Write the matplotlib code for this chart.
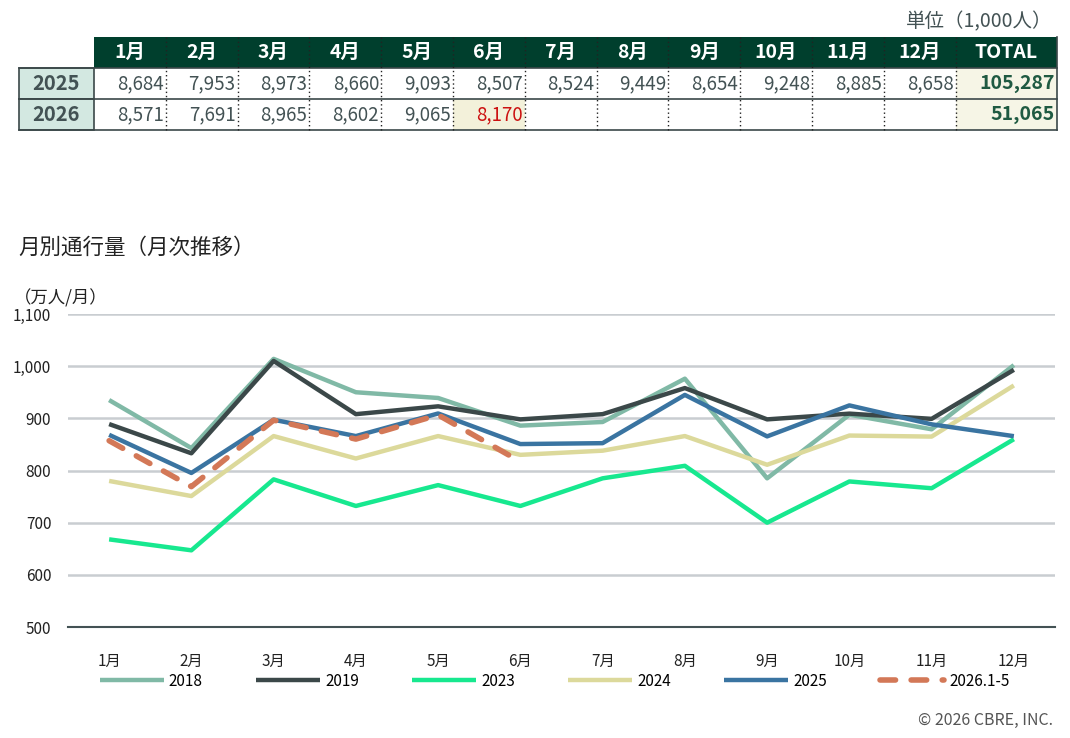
import matplotlib
matplotlib.use('Agg')
import matplotlib.pyplot as plt
from matplotlib.patches import Rectangle

plt.rcParams['font.family'] = ['Noto Sans CJK JP', 'DejaVu Sans']

# ---- data ----
months = ['1月', '2月', '3月', '4月', '5月', '6月', '7月', '8月', '9月', '10月', '11月', '12月']
table_years = ['2025', '2026']
table_2025 = [8684, 7953, 8973, 8660, 9093, 8507, 8524, 9449, 8654, 9248, 8885, 8658]
table_2026 = [8571, 7691, 8965, 8602, 9065, 8170]
total_2025 = 105287
total_2026 = 51065

v2018 = [935, 843, 1014, 950, 939, 886, 893, 976, 785, 907, 879, 1002]
v2019 = [889, 833, 1010, 908, 923, 898, 908, 958, 898, 909, 899, 993]
v2023 = [668, 647, 783, 732, 772, 732, 785, 809, 700, 779, 766, 860]
v2024 = [780, 751, 866, 823, 866, 830, 838, 866, 811, 867, 865, 963]
v2025 = [v / 10 for v in table_2025]
v2026 = [v / 10 for v in table_2026]

series = [
    ('2018', v2018, '#80b9a6', '-'),
    ('2019', v2019, '#3b4849', '-'),
    ('2023', v2023, '#17e88f', '-'),
    ('2024', v2024, '#dcd99b', '-'),
    ('2025', v2025, '#3a74a1', '-'),
    ('2026.1-5', v2026, '#d37857', '--'),
]

W, H = 1070, 738
fig = plt.figure(figsize=(W / 100, H / 100), dpi=100)

# ---- table (drawn in pixel coordinates) ----
tab = fig.add_axes([0, 0, 1, 1])
tab.set_xlim(0, W)
tab.set_ylim(H, 0)
tab.axis('off')

dark_green = '#003f2d'
text_gray = '#435254'
lab_x0, lab_x1 = 19, 94
col_w = 71.8
tot_x0, tot_x1 = 94 + 12 * col_w, 1057
row_y = [37, 68, 99, 130]

# header
tab.add_patch(Rectangle((lab_x1, row_y[0]), tot_x1 - lab_x1, row_y[1] - row_y[0],
                        facecolor=dark_green, edgecolor='none'))
headers = months + ['TOTAL']
for i, h in enumerate(headers):
    if i < 12:
        cx = lab_x1 + (i + 0.5) * col_w
    else:
        cx = (tot_x0 + tot_x1) / 2
    tab.text(cx, (row_y[0] + row_y[1]) / 2, h, color='white', fontsize=14,
             fontweight='bold', ha='center', va='center')

# body rows
rows = [(table_2025, total_2025), (table_2026, total_2026)]
for r, (vals, tot) in enumerate(rows):
    y0, y1 = row_y[r + 1], row_y[r + 2]
    ym = (y0 + y1) / 2
    tab.add_patch(Rectangle((lab_x0, y0), lab_x1 - lab_x0, y1 - y0,
                            facecolor='#d3e8e1', edgecolor='#3b4849', lw=1.2))
    tab.text((lab_x0 + lab_x1) / 2, ym, table_years[r], color=text_gray,
             fontsize=14.5, fontweight='bold', ha='center', va='center')
    tab.add_patch(Rectangle((tot_x0, y0), tot_x1 - tot_x0, y1 - y0,
                            facecolor='#f6f5e6', edgecolor='none'))
    tab.text(tot_x1 - 2, ym, f'{tot:,}', color='#1f5a42', fontsize=14,
             fontweight='bold', ha='right', va='center')
    for i, v in enumerate(vals):
        x0 = lab_x1 + i * col_w
        color = text_gray
        if r == 1 and i == len(vals) - 1:
            tab.add_patch(Rectangle((x0, y0), col_w, y1 - y0,
                                    facecolor='#f3f1da', edgecolor='none'))
            color = '#cc1111'
        tab.text(x0 + col_w - 2, ym, f'{v:,}', color=color, fontsize=13.5,
                 ha='right', va='center')

# grid lines of the table
for y in row_y[1:]:
    tab.plot([lab_x0, tot_x1], [y, y], color='#3b4849', lw=1.2)
tab.plot([tot_x1, tot_x1], [row_y[0], row_y[3]], color='#3b4849', lw=1.2)
for i in range(1, 13):
    x = lab_x1 + i * col_w
    tab.plot([x, x], [row_y[0], row_y[3]], color='#222222', lw=1, ls=(0, (1, 2)))

tab.text(1052, 22, '単位（1,000人）', color=text_gray, fontsize=14, ha='right', va='center')

# ---- chart ----
tab.text(18, 248, '月別通行量（月次推移）', color='#222222', fontsize=15.5, ha='left', va='center')
tab.text(14, 298, '（万人/月）', color='#222222', fontsize=12.5, ha='left', va='center')
tab.text(1053, 720, '© 2026 CBRE, INC.', color='#555555', fontsize=11.5, ha='right', va='center')

ax = fig.add_axes([68 / W, 1 - 627 / H, (1055 - 68) / W, (627 - 314) / H])
x = list(range(12))
for name, vals, color, ls in series:
    if ls == '--':
        ax.plot(range(len(vals)), vals, color=color, lw=4, ls=(0, (2.8, 2.8)),
                dash_capstyle='round', label=name, zorder=5)
    else:
        ax.plot(range(len(vals)), vals, color=color, lw=3.2, label=name,
                solid_capstyle='butt', zorder=3)

ax.set_xlim(-0.5, 11.5)
ax.set_ylim(500, 1100)
ax.set_yticks(range(500, 1101, 100))
ax.set_yticklabels([f'{v:,}' for v in range(500, 1101, 100)])
ax.set_xticks(x)
ax.set_xticklabels(months)
ax.tick_params(axis='y', length=0, pad=12, labelsize=11, labelcolor='#222222')
ax.tick_params(axis='x', length=0, pad=19, labelsize=11, labelcolor='#222222')
ax.grid(axis='y', color='#c9cdd1', lw=1.8)
ax.set_axisbelow(True)
for s in ['top', 'right', 'left']:
    ax.spines[s].set_visible(False)
ax.spines['bottom'].set_color('#435254')
ax.spines['bottom'].set_linewidth(1.5)

fig.legend(loc='center left', bbox_to_anchor=(100 / W, 1 - 681 / H), ncol=6,
           frameon=False, fontsize=11, handlelength=4.2, handletextpad=0.3,
           columnspacing=3.5, borderpad=0, borderaxespad=0)

fig.savefig('out.png', dpi=100)
